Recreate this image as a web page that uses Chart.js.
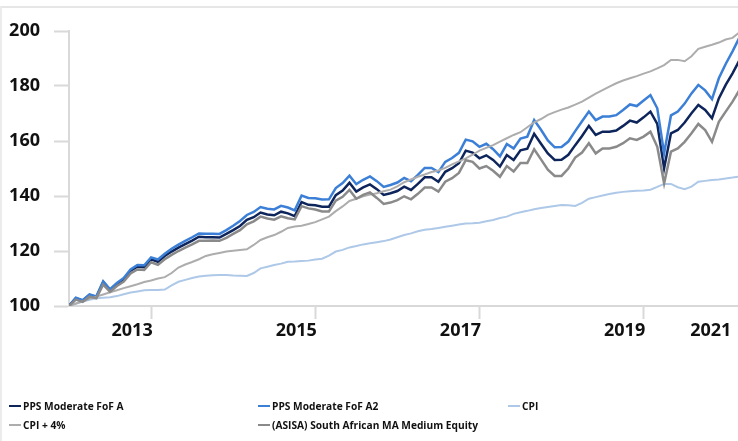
<!DOCTYPE html>
<html>
<head>
<meta charset="utf-8">
<script src="https://cdn.jsdelivr.net/npm/chart.js@4.4.1/dist/chart.umd.min.js"></script>
<style>
  html, body { margin: 0; padding: 0; background: #fff; width: 738px; height: 441px; overflow: hidden; }
  #frame { position: absolute; left: 0; top: 6px; right: 0; bottom: 0; border-top: 2px solid #e6e6e6; border-left: 2px solid #ececec; }
  #wrap { position: absolute; left: 0; top: 0; width: 738px; height: 360px; }
  #legend { position: absolute; left: 0; top: 0; width: 738px; height: 441px; pointer-events: none; }
  .item { position: absolute; display: flex; align-items: center; font: bold 10.2px "Open Sans", sans-serif; color: #111; white-space: nowrap; }
  .swatch { width: 12px; height: 2px; margin-right: 2px; }
</style>
</head>
<body>
<div id="frame"></div>
<div id="wrap"><canvas id="perfChart" width="738" height="360"></canvas></div>
<div id="legend"></div>
<script>
// monthly index values, start = 100
const ppsA = [
  100, 102.8, 101.9, 104, 103.2, 108.7, 105.8, 108, 109.7, 112.8,
  114.3, 114.1, 117, 116.1, 118.2, 119.8, 121.2, 122.5, 123.8, 125.2,
  125.0, 125.0, 124.9, 126.2, 127.6, 129.1, 131.3, 132.3, 134, 133.3,
  133, 134.3, 133.7, 132.7, 137.8, 136.8, 136.6, 136.1, 136.1, 140.3,
  142, 144.8, 141.6, 143.1, 144.2, 142.5, 140.4, 141, 141.8, 143.4,
  142.2, 144.4, 146.8, 146.8, 145.2, 148.8, 150.1, 151.9, 156.5, 155.8,
  153.7, 154.8, 153.1, 150.7, 154.9, 153.1, 156.6, 157.2, 162.6, 159,
  155.5, 153.1, 153.2, 155.0, 158.5, 161.8, 165.5, 162.2, 163.4, 163.4,
  163.8, 165.5, 167.4, 166.7, 168.6, 170.7, 166.2, 150.1, 162.8, 164,
  166.7, 170.1, 173.1, 171.3, 168.3, 175.5, 180.4, 184.6, 189.3
];
const ppsA2 = [
  100, 103.0, 102.1, 104.2, 103.5, 109.0, 106.1, 108.4, 110.2, 113.3,
  114.9, 114.8, 117.7, 116.9, 119.0, 120.8, 122.3, 123.7, 125.0, 126.4,
  126.3, 126.3, 126.2, 127.6, 129.2, 130.9, 133.1, 134.2, 136.0, 135.4,
  135.1, 136.4, 135.8, 134.8, 140.2, 139.3, 139.2, 138.7, 138.8, 142.9,
  144.7, 147.4, 144.3, 145.9, 147.1, 145.4, 143.3, 144.0, 144.9, 146.6,
  145.4, 147.7, 150.2, 150.2, 148.7, 152.4, 153.8, 155.7, 160.5, 159.9,
  157.9, 159.0, 157.0, 154.4, 158.9, 157.3, 160.9, 161.6, 167.6, 164.1,
  160.2, 157.7, 157.8, 159.8, 163.6, 167.2, 170.7, 167.6, 168.9, 168.9,
  169.4, 171.3, 173.3, 172.7, 174.7, 176.7, 171.9, 155.5, 169.3, 170.7,
  173.6, 177.3, 180.4, 178.4, 175.2, 182.8, 188.0, 192.6, 197.6
];
const cpi = [
  100, 100.8, 101.6, 102.3, 102.8, 103.0, 103.2, 103.6, 104.3, 104.9,
  105.3, 105.7, 105.8, 105.8, 106.0, 107.5, 108.8, 109.5, 110.2, 110.7,
  111.0, 111.2, 111.3, 111.3, 111.1, 111.0, 110.9, 112.0, 113.7, 114.3,
  114.9, 115.4, 116.1, 116.2, 116.4, 116.5, 116.9, 117.2, 118.3, 119.8,
  120.4, 121.3, 121.8, 122.4, 122.8, 123.2, 123.6, 124.2, 125.0, 125.8,
  126.4, 127.2, 127.7, 128.0, 128.4, 128.8, 129.2, 129.6, 130.0, 130.1,
  130.3, 130.8, 131.3, 132.0, 132.5, 133.5, 134.1, 134.6, 135.2, 135.6,
  136.0, 136.4, 136.7, 136.6, 136.4, 137.5, 139.0, 139.6, 140.2, 140.7,
  141.2, 141.5, 141.7, 141.9, 142.0, 142.3, 143.3, 144.4, 144.4, 143.2,
  142.5, 143.4, 145.2, 145.5, 145.8, 146.0, 146.4, 146.7, 147.1
];
const cpiPlus4 = [
  100, 100.9, 101.7, 102.6, 103.4, 104.2, 105.0, 105.7, 106.5, 107.2,
  107.9, 108.7, 109.3, 110.0, 110.5, 112.0, 114.0, 115.1, 116.0, 117.0,
  118.2, 118.8, 119.3, 119.8, 120.1, 120.4, 120.6, 122.2, 124.0, 125.0,
  125.8, 127.0, 128.4, 128.9, 129.2, 129.8, 130.5, 131.5, 132.5, 134.5,
  136.2, 138.2, 139.0, 139.9, 140.5, 141.0, 141.7, 142.3, 143.5, 145.0,
  146.0, 147.0, 147.8, 148.7, 149.3, 150.2, 151.5, 152.6, 153.7, 155.0,
  156.5, 157.5, 158.5, 159.8, 161.0, 162.2, 163.2, 165.0, 166.8, 168.0,
  169.5, 170.5, 171.4, 172.2, 173.2, 174.3, 175.8, 177.2, 178.5, 179.8,
  181.0, 182.0, 182.8, 183.6, 184.5, 185.3, 186.4, 187.6, 189.5, 189.5,
  189.0, 190.8, 193.5, 194.3, 195.0, 195.8, 196.9, 197.5, 199.5
];
const asisa = [
  100, 102.3, 101.5, 103.4, 102.8, 107.8, 105.2, 107.3, 108.9, 111.8,
  113.3, 113.1, 115.9, 115.0, 117.0, 118.6, 120.0, 121.2, 122.4, 123.7,
  123.7, 123.8, 123.7, 124.8, 126.2, 127.6, 129.7, 130.8, 132.5, 131.8,
  131.4, 132.6, 131.9, 131.5, 136.3, 135.5, 135.1, 134.4, 134.4, 138.3,
  139.7, 142.2, 139.0, 140.4, 141.3, 139.3, 137.1, 137.6, 138.5, 139.9,
  138.8, 140.8, 143.1, 143.1, 141.6, 145.2, 146.5, 148.4, 153.0, 152.4,
  150.0, 150.9, 149.2, 147.0, 150.9, 148.9, 152.0, 152.0, 157.0, 153.3,
  149.6, 147.3, 147.3, 150.0, 154.0, 155.8, 159.2, 155.5, 157.3, 157.3,
  157.9, 159.2, 161.0, 160.4, 161.6, 163.4, 157.9, 144.6, 156.1, 157.3,
  159.7, 162.8, 166.2, 164.0, 159.7, 167.0, 170.7, 174.3, 178.5
];

const seriesNames = ["PPS Moderate FoF A", "PPS Moderate FoF A2", "CPI", "CPI + 4%", "(ASISA) South African MA Medium Equity"];
const seriesColors = ["#0e255c", "#3b7fd6", "#aec8e8", "#adadad", "#8a8a8a"];

// x axis: month index; year marks and label spots
const yearTickPos = [12, 36, 60, 84, 96.6];
const yearLabels = ["2013", "2015", "2017", "2019", "2021"];
const yTicks = [100, 120, 140, 160, 180, 200];

document.addEventListener("DOMContentLoaded", function () {

    const values = [ppsA, ppsA2, cpi, cpiPlus4, asisa];
    const widths = [2.5, 2.5, 2, 2, 2.5];
    const months = ppsA.map(function (v, i) { return i; });

    const datasets = values.map(function (vals, i) {
        return {
            label: seriesNames[i],
            data: vals,
            borderColor: seriesColors[i],
            borderWidth: widths[i],
            pointRadius: 0,
            tension: 0,
            fill: false,
            order: values.length - i   // later series on top, like the original
        };
    });

    const axisGrey = "#d9d9d9";
    const tickFont = { family: "'Open Sans', sans-serif", size: 18, weight: "bold" };

    const ctx = document.getElementById("perfChart").getContext("2d");
    window.perfChart = new Chart(ctx, {
        type: "line",
        data: { labels: months, datasets: datasets },
        options: {
            responsive: false,
            animation: false,
            devicePixelRatio: 1,
            layout: { padding: { top: 31, right: 0, bottom: 0, left: 0 } },
            plugins: { legend: { display: false }, tooltip: { enabled: false } },
            scales: {
                x: {
                    type: "linear",
                    min: 0,
                    max: 97.8,
                    border: { color: axisGrey, width: 2 },
                    grid: {
                        drawOnChartArea: false,
                        drawTicks: true,
                        tickLength: 13,
                        tickWidth: 2,
                        tickColor: function (c) { return c.index < 4 ? axisGrey : "rgba(0,0,0,0)"; }
                    },
                    afterBuildTicks: function (scale) {
                        scale.ticks = yearTickPos.map(function (v) { return { value: v }; });
                    },
                    afterFit: function (scale) {
                        scale.height = 54;
                        scale.paddingLeft = 0;
                        scale.paddingRight = 0;
                    },
                    ticks: {
                        autoSkip: false,
                        maxRotation: 0,
                        padding: 1,
                        labelOffset: -19,
                        color: "#111",
                        font: tickFont,
                        callback: function (value) {
                            const k = yearTickPos.indexOf(value);
                            return k >= 0 ? yearLabels[k] : "";
                        }
                    }
                },
                y: {
                    min: 100,
                    max: 200,
                    border: { color: axisGrey, width: 2 },
                    grid: {
                        drawOnChartArea: false,
                        drawTicks: true,
                        tickLength: 15,
                        tickWidth: 2,
                        tickColor: axisGrey
                    },
                    afterBuildTicks: function (scale) {
                        scale.ticks = yTicks.map(function (v) { return { value: v }; });
                    },
                    afterFit: function (scale) {
                        scale.width = 69;
                    },
                    ticks: {
                        padding: 14,
                        color: "#111",
                        font: tickFont
                    }
                }
            }
        }
    });

    // legend, three per row
    const legend = document.getElementById("legend");
    const colLeft = [9, 258, 508];
    seriesNames.forEach(function (name, i) {
        const item = document.createElement("div");
        item.className = "item";
        item.style.left = colLeft[i % 3] + "px";
        item.style.top = (399 + Math.floor(i / 3) * 19) + "px";
        item.innerHTML = '<span class="swatch" style="background:' + seriesColors[i] + '"></span>' + name;
        legend.appendChild(item);
    });
});
</script>
</body>
</html>
